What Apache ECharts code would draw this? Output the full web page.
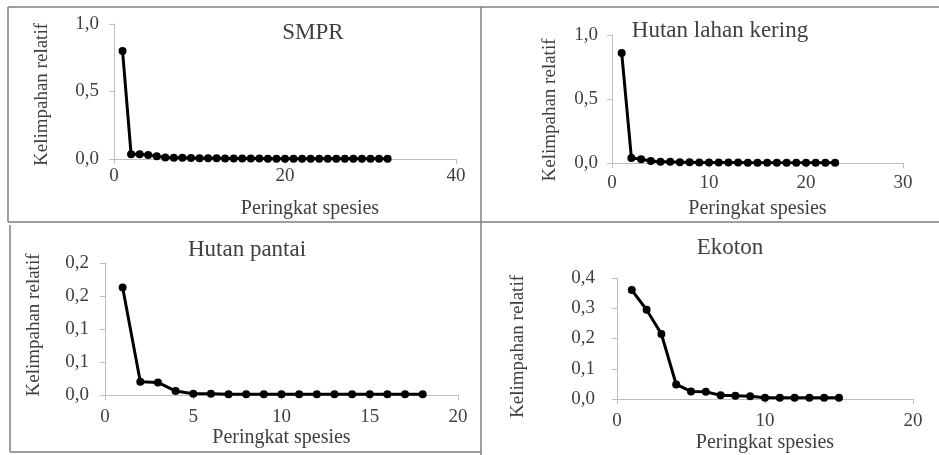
<!DOCTYPE html>
<html>
<head>
<meta charset="utf-8">
<script src="https://cdn.jsdelivr.net/npm/echarts@6/dist/echarts.min.js"></script>
<style>
html, body { margin: 0; padding: 0; background: #fff; }
#main { width: 939px; height: 455px; }
</style>
</head>
<body>
<div id="main"></div>
<script>
// judul tiap panel
var titles = ['SMPR', 'Hutan lahan kering', 'Hutan pantai', 'Ekoton'];
var x_name = 'Peringkat spesies';
var y_name = 'Kelimpahan relatif';

// kelimpahan relatif per peringkat spesies
var smpr_values = [0.80, 0.035, 0.035, 0.03, 0.02, 0.012, 0.01, 0.01, 0.008, 0.006,
  0.005, 0.005, 0.004, 0.004, 0.003, 0.003, 0.003, 0.002, 0.002, 0.002,
  0.002, 0.002, 0.001, 0.001, 0.001, 0.001, 0.001, 0.001, 0.001, 0.001,
  0.001, 0.001];
var hlk_values = [0.86, 0.04, 0.03, 0.015, 0.01, 0.01, 0.006, 0.005, 0.004, 0.004,
  0.003, 0.003, 0.003, 0.002, 0.002, 0.002, 0.002, 0.002, 0.001, 0.001,
  0.001, 0.001, 0.001];
var pantai_values = [0.163, 0.02, 0.019, 0.006, 0.002, 0.002, 0.001, 0.001, 0.001, 0.001,
  0.001, 0.001, 0.001, 0.001, 0.001, 0.001, 0.001, 0.001];
var ekoton_values = [0.36, 0.295, 0.215, 0.048, 0.025, 0.024, 0.012, 0.011, 0.009, 0.004,
  0.004, 0.004, 0.004, 0.004, 0.004];

// label sumbu (format Excel, koma desimal)
var y_ticks_smpr = ['0,0', '0,5', '1,0'];
var y_ticks_hlk = ['0,0', '0,5', '1,0'];
var y_ticks_pantai = ['0,0', '0,1', '0,1', '0,2', '0,2'];
var y_ticks_ekoton = ['0,0', '0,1', '0,2', '0,3', '0,4'];
var x_ticks_smpr = [0, 20, 40];
var x_ticks_hlk = [0, 10, 20, 30];
var x_ticks_pantai = [0, 5, 10, 15, 20];
var x_ticks_ekoton = [0, 10, 20];

var FONT = 'Liberation Serif';
var TEXT_COLOR = '#404040';
var AXIS_COLOR = '#bfbfbf';

// posisi grid dan nama sumbu tiap panel
var panels = [
  {values: smpr_values, yt: y_ticks_smpr, xt: x_ticks_smpr, yInterval: 0.5, grid: {left: 114, right: 483, top: 24, bottom: 296},
   yGap: 62, yPad: [0, 6, 0, 0], xGap: 40, xPad: [0, 0, 0, 50], yMargin: 15, xMargin: 8, title: [313, 33]},
  {values: hlk_values, yt: y_ticks_hlk, xt: x_ticks_hlk, yInterval: 0.5, grid: {left: 612, right: 36, top: 35, bottom: 292},
   yGap: 52, yPad: [0, 22, 0, 0], xGap: 36, xPad: 0, yMargin: 14, xMargin: 11, title: [720, 31]},
  {values: pantai_values, yt: y_ticks_pantai, xt: x_ticks_pantai, yInterval: 0.05, grid: {left: 105, right: 481, top: 263, bottom: 60},
   yGap: 61, yPad: [0, 0, 0, 8], xGap: 29, xPad: 0, yMargin: 16, xMargin: 13, title: [247, 250]},
  {values: ekoton_values, yt: y_ticks_ekoton, xt: x_ticks_ekoton, yInterval: 0.1, grid: {left: 617, right: 26, top: 278, bottom: 56},
   yGap: 89, yPad: [0, 16, 0, 0], xGap: 34, xPad: 0, yMargin: 22, xMargin: 13, title: [730, 248]}
];

var grids = [], xAxes = [], yAxes = [], series = [];
panels.forEach(function (p, i) {
  var yInterval = p.yInterval;
  var yMax = yInterval * (p.yt.length - 1);
  var xMax = p.xt[p.xt.length - 1];
  var xInterval = p.xt[1] - p.xt[0];
  grids.push(p.grid);
  xAxes.push({
    type: 'value', gridIndex: i, min: 0, max: xMax, interval: xInterval,
    name: x_name, nameLocation: 'middle', nameGap: p.xGap,
    nameTextStyle: {fontFamily: FONT, fontSize: 20, color: TEXT_COLOR, padding: p.xPad},
    axisLine: {show: true, lineStyle: {color: AXIS_COLOR, width: 1}},
    axisTick: {show: true, length: 5, lineStyle: {color: AXIS_COLOR}},
    axisLabel: {fontFamily: FONT, fontSize: 19, color: TEXT_COLOR, margin: p.xMargin},
    splitLine: {show: false}
  });
  yAxes.push({
    type: 'value', gridIndex: i, min: 0, max: yMax, interval: yInterval,
    name: y_name, nameLocation: 'middle', nameGap: p.yGap,
    nameTextStyle: {fontFamily: FONT, fontSize: 19, color: TEXT_COLOR, padding: p.yPad},
    axisLine: {show: true, lineStyle: {color: AXIS_COLOR, width: 1}},
    axisTick: {show: true, length: 5, lineStyle: {color: AXIS_COLOR}},
    axisLabel: {
      fontFamily: FONT, fontSize: 19, color: TEXT_COLOR, margin: p.yMargin,
      formatter: function (v) { return p.yt[Math.round(v / yInterval)]; }
    },
    splitLine: {show: false}
  });
  series.push({
    type: 'line', xAxisIndex: i, yAxisIndex: i,
    data: p.values.map(function (v, k) { return [k + 1, v]; }),
    symbol: 'circle', symbolSize: 8,
    lineStyle: {color: '#000', width: 3},
    itemStyle: {color: '#000'}
  });
});

// bingkai panel dan judul
var border = {stroke: '#7f7f7f', lineWidth: 1.5};
var graphic = [
  {type: 'line', shape: {x1: 8, y1: 7, x2: 939, y2: 7}, style: border},
  {type: 'line', shape: {x1: 8, y1: 7, x2: 8, y2: 222}, style: border},
  {type: 'line', shape: {x1: 481, y1: 7, x2: 481, y2: 455}, style: border},
  {type: 'line', shape: {x1: 8, y1: 222, x2: 939, y2: 222}, style: border},
  {type: 'line', shape: {x1: 10, y1: 225, x2: 10, y2: 452}, style: border},
  {type: 'line', shape: {x1: 10, y1: 452, x2: 481, y2: 452}, style: border}
];
panels.forEach(function (p, i) {
  graphic.push({
    type: 'text', x: p.title[0], y: p.title[1],
    style: {text: titles[i], font: '23px "' + FONT + '"', fill: TEXT_COLOR, align: 'center', verticalAlign: 'middle'}
  });
});

var chart = echarts.init(document.getElementById('main'));
chart.setOption({
  animation: false,
  grid: grids,
  xAxis: xAxes,
  yAxis: yAxes,
  series: series,
  graphic: graphic
});
</script>
</body>
</html>
